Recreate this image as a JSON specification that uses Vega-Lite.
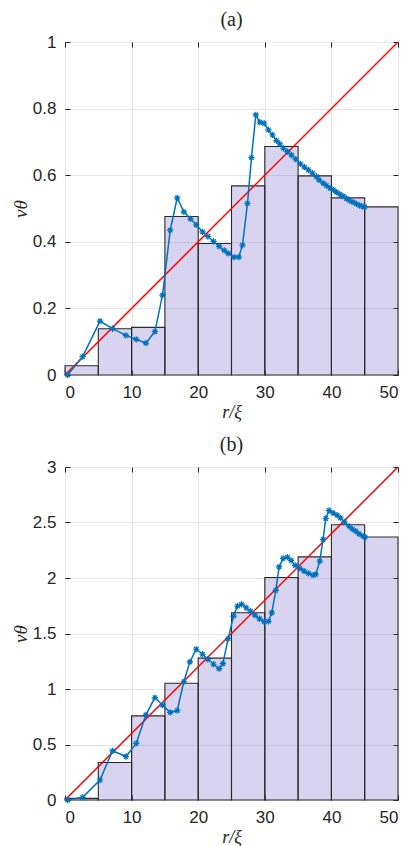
{
  "$schema": "https://vega.github.io/schema/vega-lite/v6.json",
  "padding": {"left": 10, "top": 9, "right": 8, "bottom": 0},
  "spacing": 12,
  "background": "white",
  "config": {
    "view": {"stroke": "#262626", "strokeWidth": 1},
    "axis": {
      "grid": true, "gridColor": "#e6e6e6", "gridWidth": 1,
      "domain": false,
      "tickColor": "#262626", "tickSize": -5, "tickWidth": 1,
      "labelFont": "Arial", "labelFontSize": 17, "labelColor": "#262626",
      "labelPadding": 14, "format": "~r",
      "titleFont": "Times New Roman", "titleFontSize": 19, "titleFontStyle": "italic", "titleFontWeight": "normal", "titleColor": "#262626"
    },
    "title": {"font": "Times New Roman", "fontSize": 20, "fontWeight": "normal", "color": "#262626", "offset": 3}
  },
  "datasets": {
    "barsA": [
      {"r0": 0, "r1": 5, "v": 0.028}, {"r0": 5, "r1": 10, "v": 0.139}, {"r0": 10, "r1": 15, "v": 0.143},
      {"r0": 15, "r1": 20, "v": 0.476}, {"r0": 20, "r1": 25, "v": 0.395}, {"r0": 25, "r1": 30, "v": 0.568},
      {"r0": 30, "r1": 35, "v": 0.686}, {"r0": 35, "r1": 40, "v": 0.598}, {"r0": 40, "r1": 45, "v": 0.532},
      {"r0": 45, "r1": 50, "v": 0.505}
    ],
    "barsB": [
      {"r0": 0, "r1": 5, "v": 0.015}, {"r0": 5, "r1": 10, "v": 0.338}, {"r0": 10, "r1": 15, "v": 0.758},
      {"r0": 15, "r1": 20, "v": 1.052}, {"r0": 20, "r1": 25, "v": 1.278}, {"r0": 25, "r1": 30, "v": 1.687},
      {"r0": 30, "r1": 35, "v": 2.005}, {"r0": 35, "r1": 40, "v": 2.19}, {"r0": 40, "r1": 45, "v": 2.48},
      {"r0": 45, "r1": 50, "v": 2.37}
    ],
    "diagA": [{"r": 0, "v": 0}, {"r": 50, "v": 1}],
    "diagB": [{"r": 0, "v": 0}, {"r": 50, "v": 3}],
    "lineA": [
      {"r": 0.4, "v": 0}, {"r": 2.65, "v": 0.055}, {"r": 5.25, "v": 0.162}, {"r": 7.14, "v": 0.139},
      {"r": 9.15, "v": 0.119}, {"r": 10.7, "v": 0.107}, {"r": 12.15, "v": 0.096}, {"r": 13.5, "v": 0.13},
      {"r": 14.64, "v": 0.24}, {"r": 15.8, "v": 0.435}, {"r": 16.85, "v": 0.532}, {"r": 17.85, "v": 0.49},
      {"r": 18.85, "v": 0.469}, {"r": 19.7, "v": 0.451}, {"r": 20.65, "v": 0.43}, {"r": 21.45, "v": 0.416},
      {"r": 22.3, "v": 0.401}, {"r": 23.15, "v": 0.386}, {"r": 23.9, "v": 0.374}, {"r": 24.5, "v": 0.365},
      {"r": 25.4, "v": 0.354}, {"r": 26.1, "v": 0.354}, {"r": 26.65, "v": 0.39}, {"r": 27.4, "v": 0.515},
      {"r": 28.0, "v": 0.653}, {"r": 28.65, "v": 0.781}, {"r": 29.25, "v": 0.759}, {"r": 29.9, "v": 0.756},
      {"r": 30.55, "v": 0.736}, {"r": 31.15, "v": 0.721}, {"r": 31.75, "v": 0.704}, {"r": 32.25, "v": 0.694},
      {"r": 32.8, "v": 0.681}, {"r": 33.4, "v": 0.671}, {"r": 34.0, "v": 0.66}, {"r": 34.65, "v": 0.648},
      {"r": 35.35, "v": 0.634}, {"r": 35.95, "v": 0.624}, {"r": 36.55, "v": 0.616}, {"r": 37.15, "v": 0.606},
      {"r": 37.75, "v": 0.596}, {"r": 38.15, "v": 0.586}, {"r": 38.75, "v": 0.576}, {"r": 39.25, "v": 0.569},
      {"r": 39.8, "v": 0.561}, {"r": 40.3, "v": 0.556}, {"r": 40.75, "v": 0.549}, {"r": 41.25, "v": 0.543},
      {"r": 41.75, "v": 0.537}, {"r": 42.25, "v": 0.53}, {"r": 42.75, "v": 0.524}, {"r": 43.25, "v": 0.519},
      {"r": 43.75, "v": 0.514}, {"r": 44.25, "v": 0.509}, {"r": 44.75, "v": 0.506}, {"r": 45.0, "v": 0.505}
    ],
    "lineB": [
      {"r": 0.4, "v": 0}, {"r": 2.65, "v": 0.024}, {"r": 5.25, "v": 0.18}, {"r": 7.14, "v": 0.443},
      {"r": 9.15, "v": 0.392}, {"r": 10.7, "v": 0.51}, {"r": 12.15, "v": 0.767}, {"r": 13.5, "v": 0.923},
      {"r": 14.64, "v": 0.854}, {"r": 15.8, "v": 0.79}, {"r": 16.85, "v": 0.806}, {"r": 17.85, "v": 1.067},
      {"r": 18.75, "v": 1.244}, {"r": 19.7, "v": 1.358}, {"r": 20.65, "v": 1.313}, {"r": 21.45, "v": 1.268},
      {"r": 22.3, "v": 1.223}, {"r": 23.15, "v": 1.184}, {"r": 23.7, "v": 1.228}, {"r": 24.5, "v": 1.453},
      {"r": 25.3, "v": 1.657}, {"r": 25.9, "v": 1.747}, {"r": 26.5, "v": 1.762}, {"r": 27.2, "v": 1.732},
      {"r": 27.85, "v": 1.702}, {"r": 28.5, "v": 1.666}, {"r": 29.2, "v": 1.633}, {"r": 29.9, "v": 1.606},
      {"r": 30.55, "v": 1.609}, {"r": 31.05, "v": 1.687}, {"r": 31.65, "v": 1.888}, {"r": 32.15, "v": 2.1},
      {"r": 32.75, "v": 2.176}, {"r": 33.4, "v": 2.188}, {"r": 33.95, "v": 2.158}, {"r": 34.55, "v": 2.113},
      {"r": 35.25, "v": 2.086}, {"r": 35.9, "v": 2.062}, {"r": 36.55, "v": 2.041}, {"r": 37.25, "v": 2.026},
      {"r": 37.65, "v": 2.032}, {"r": 38.25, "v": 2.152}, {"r": 38.75, "v": 2.347}, {"r": 39.15, "v": 2.536},
      {"r": 39.65, "v": 2.608}, {"r": 40.25, "v": 2.587}, {"r": 40.85, "v": 2.566}, {"r": 41.35, "v": 2.542},
      {"r": 41.95, "v": 2.506}, {"r": 42.65, "v": 2.467}, {"r": 43.15, "v": 2.44}, {"r": 43.65, "v": 2.422},
      {"r": 44.15, "v": 2.398}, {"r": 44.75, "v": 2.377}, {"r": 45.05, "v": 2.368}
    ]
  },
  "vconcat": [
    {
      "title": {"text": "(a)"},
      "width": 333, "height": 333,
      "layer": [
        {
          "data": {"name": "barsA"},
          "mark": {"type": "rect", "fill": "#7d70c9", "fillOpacity": 0.3, "stroke": "#2a2a2a", "strokeWidth": 1.1},
          "encoding": {
            "x": {"field": "r0", "type": "quantitative", "scale": {"domain": [0, 50], "nice": false},
                  "axis": {"values": [0, 10, 20, 30, 40, 50], "title": "r/ξ", "titlePadding": 3, "titleFontSize": 18}},
            "x2": {"field": "r1"},
            "y": {"field": "v", "type": "quantitative", "scale": {"domain": [0, 1], "nice": false},
                  "axis": {"values": [0, 0.2, 0.4, 0.6, 0.8, 1], "title": "vθ", "titlePadding": 2}},
            "y2": {"datum": 0}
          }
        },
        {
          "data": {"name": "diagA"},
          "mark": {"type": "line", "color": "#ff0000", "strokeWidth": 1.5},
          "encoding": {
            "x": {"field": "r", "type": "quantitative",
                  "axis": {"orient": "top", "values": [0, 10, 20, 30, 40, 50], "labels": false, "title": null, "grid": false}},
            "y": {"field": "v", "type": "quantitative",
                  "axis": {"orient": "right", "values": [0, 0.2, 0.4, 0.6, 0.8, 1], "labels": false, "title": null, "grid": false}}
          }
        },
        {
          "data": {"name": "lineA"},
          "mark": {"type": "line", "color": "#0072bd", "strokeWidth": 1.5},
          "encoding": {
            "x": {"field": "r", "type": "quantitative", "axis": null},
            "y": {"field": "v", "type": "quantitative", "axis": null}
          }
        },
        {
          "data": {"name": "lineA"},
          "mark": {"type": "point", "shape": "M-1,0L1,0M0,-1L0,1M-0.7,-0.7L0.7,0.7M-0.7,0.7L0.7,-0.7", "filled": false, "stroke": "#0072bd", "strokeWidth": 1.2, "size": 40, "opacity": 1},
          "encoding": {
            "x": {"field": "r", "type": "quantitative", "axis": null},
            "y": {"field": "v", "type": "quantitative", "axis": null}
          }
        }
      ],
      "resolve": {"axis": {"x": "independent", "y": "independent"}}
    },
    {
      "title": {"text": "(b)"},
      "width": 333, "height": 333,
      "layer": [
        {
          "data": {"name": "barsB"},
          "mark": {"type": "rect", "fill": "#7d70c9", "fillOpacity": 0.3, "stroke": "#2a2a2a", "strokeWidth": 1.1},
          "encoding": {
            "x": {"field": "r0", "type": "quantitative", "scale": {"domain": [0, 50], "nice": false},
                  "axis": {"values": [0, 10, 20, 30, 40, 50], "title": "r/ξ", "titlePadding": 3, "titleFontSize": 18}},
            "x2": {"field": "r1"},
            "y": {"field": "v", "type": "quantitative", "scale": {"domain": [0, 3], "nice": false},
                  "axis": {"values": [0, 0.5, 1, 1.5, 2, 2.5, 3], "title": "vθ", "titlePadding": 2}},
            "y2": {"datum": 0}
          }
        },
        {
          "data": {"name": "diagB"},
          "mark": {"type": "line", "color": "#ff0000", "strokeWidth": 1.5},
          "encoding": {
            "x": {"field": "r", "type": "quantitative",
                  "axis": {"orient": "top", "values": [0, 10, 20, 30, 40, 50], "labels": false, "title": null, "grid": false}},
            "y": {"field": "v", "type": "quantitative",
                  "axis": {"orient": "right", "values": [0, 0.5, 1, 1.5, 2, 2.5, 3], "labels": false, "title": null, "grid": false}}
          }
        },
        {
          "data": {"name": "lineB"},
          "mark": {"type": "line", "color": "#0072bd", "strokeWidth": 1.5},
          "encoding": {
            "x": {"field": "r", "type": "quantitative", "axis": null},
            "y": {"field": "v", "type": "quantitative", "axis": null}
          }
        },
        {
          "data": {"name": "lineB"},
          "mark": {"type": "point", "shape": "M-1,0L1,0M0,-1L0,1M-0.7,-0.7L0.7,0.7M-0.7,0.7L0.7,-0.7", "filled": false, "stroke": "#0072bd", "strokeWidth": 1.2, "size": 40, "opacity": 1},
          "encoding": {
            "x": {"field": "r", "type": "quantitative", "axis": null},
            "y": {"field": "v", "type": "quantitative", "axis": null}
          }
        }
      ],
      "resolve": {"axis": {"x": "independent", "y": "independent"}}
    }
  ]
}
